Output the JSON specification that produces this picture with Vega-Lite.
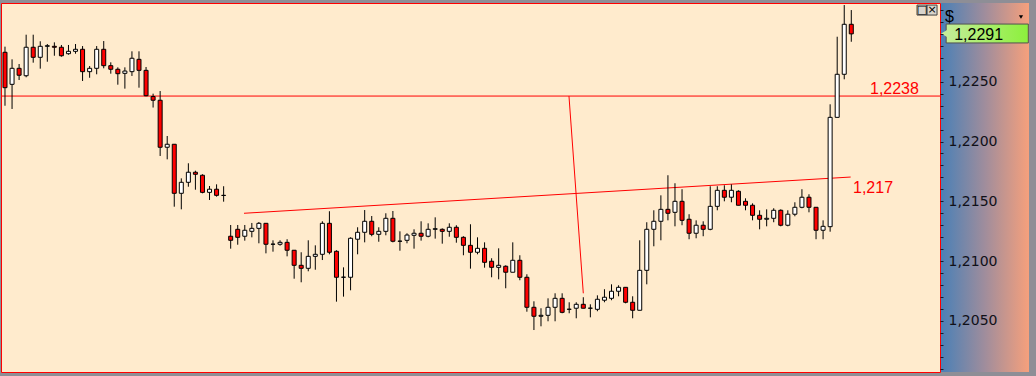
{
  "$schema": "https://vega.github.io/schema/vega-lite/v6.json",
  "autosize": {"type": "none"},
  "width": 939,
  "height": 369,
  "padding": {"left": 1, "top": 3, "right": 96, "bottom": 4},
  "background": "#8e8e96",
  "config": {
    "view": {"fill": "#FFEBCD", "stroke": "#ff0000", "strokeWidth": 1},
    "scale": {"continuousPadding": 0}
  },
  "datasets": {
    "candles": [
      {"i":1,"o":1.22746,"h":1.22793,"l":1.22299,"c":1.22450},
      {"i":2,"o":1.22478,"h":1.22687,"l":1.22272,"c":1.22612},
      {"i":3,"o":1.22612,"h":1.22648,"l":1.22514,"c":1.22554},
      {"i":4,"o":1.22550,"h":1.22893,"l":1.22537,"c":1.22788},
      {"i":5,"o":1.22788,"h":1.22893,"l":1.22659,"c":1.22704},
      {"i":6,"o":1.22704,"h":1.22838,"l":1.22609,"c":1.22796},
      {"i":7,"o":1.22796,"h":1.22815,"l":1.22667,"c":1.22801},
      {"i":8,"o":1.22796,"h":1.22829,"l":1.22717,"c":1.22788},
      {"i":9,"o":1.22788,"h":1.22807,"l":1.22709,"c":1.22717},
      {"i":10,"o":1.22734,"h":1.22807,"l":1.22726,"c":1.22754},
      {"i":11,"o":1.22754,"h":1.22815,"l":1.22734,"c":1.22771},
      {"i":12,"o":1.22771,"h":1.22798,"l":1.22506,"c":1.22584},
      {"i":13,"o":1.22584,"h":1.22631,"l":1.22533,"c":1.22612},
      {"i":14,"o":1.22612,"h":1.22798,"l":1.22562,"c":1.22771},
      {"i":15,"o":1.22771,"h":1.22840,"l":1.22612,"c":1.22634},
      {"i":16,"o":1.22634,"h":1.22662,"l":1.22567,"c":1.22604},
      {"i":17,"o":1.22604,"h":1.22620,"l":1.22475,"c":1.22567},
      {"i":18,"o":1.22570,"h":1.22620,"l":1.22442,"c":1.22589},
      {"i":19,"o":1.22584,"h":1.22754,"l":1.22548,"c":1.22696},
      {"i":20,"o":1.22687,"h":1.22754,"l":1.22450,"c":1.22595},
      {"i":21,"o":1.22595,"h":1.22623,"l":1.22378,"c":1.22383},
      {"i":22,"o":1.22376,"h":1.22400,"l":1.22284,"c":1.22345},
      {"i":23,"o":1.22345,"h":1.22422,"l":1.21879,"c":1.21952},
      {"i":24,"o":1.21952,"h":1.22046,"l":1.21851,"c":1.21977},
      {"i":25,"o":1.21977,"h":1.21977,"l":1.21455,"c":1.21567},
      {"i":26,"o":1.21567,"h":1.21692,"l":1.21433,"c":1.21659},
      {"i":27,"o":1.21659,"h":1.21818,"l":1.21622,"c":1.21743},
      {"i":28,"o":1.21743,"h":1.21756,"l":1.21597,"c":1.21726},
      {"i":29,"o":1.21718,"h":1.21726,"l":1.21567,"c":1.21575},
      {"i":30,"o":1.21575,"h":1.21628,"l":1.21511,"c":1.21601},
      {"i":31,"o":1.21601,"h":1.21642,"l":1.21539,"c":1.21550},
      {"i":32,"o":1.21550,"h":1.21626,"l":1.21497,"c":1.21549},
      {"i":33,"o":1.21208,"h":1.21302,"l":1.21104,"c":1.21174},
      {"i":34,"o":1.21266,"h":1.21302,"l":1.21137,"c":1.21199},
      {"i":35,"o":1.21208,"h":1.21302,"l":1.21171,"c":1.21258},
      {"i":36,"o":1.21249,"h":1.21319,"l":1.21199,"c":1.21274},
      {"i":37,"o":1.21274,"h":1.21327,"l":1.21149,"c":1.21316},
      {"i":38,"o":1.21316,"h":1.21316,"l":1.21065,"c":1.21141},
      {"i":39,"o":1.21141,"h":1.21174,"l":1.21079,"c":1.21142},
      {"i":40,"o":1.21141,"h":1.21174,"l":1.21129,"c":1.21157},
      {"i":41,"o":1.21157,"h":1.21183,"l":1.21040,"c":1.21091},
      {"i":42,"o":1.21091,"h":1.21091,"l":1.20853,"c":1.20965},
      {"i":43,"o":1.20965,"h":1.21074,"l":1.20823,"c":1.20940},
      {"i":44,"o":1.20940,"h":1.21174,"l":1.20915,"c":1.21040},
      {"i":45,"o":1.21040,"h":1.21132,"l":1.20928,"c":1.21057},
      {"i":46,"o":1.21057,"h":1.21333,"l":1.21009,"c":1.21316},
      {"i":47,"o":1.21316,"h":1.21417,"l":1.21057,"c":1.21074},
      {"i":48,"o":1.21082,"h":1.21091,"l":1.20661,"c":1.20865},
      {"i":49,"o":1.20865,"h":1.20948,"l":1.20703,"c":1.20866},
      {"i":50,"o":1.20865,"h":1.21199,"l":1.20756,"c":1.21191},
      {"i":51,"o":1.21183,"h":1.21283,"l":1.21057,"c":1.21241},
      {"i":52,"o":1.21241,"h":1.21427,"l":1.21157,"c":1.21333},
      {"i":53,"o":1.21333,"h":1.21377,"l":1.21208,"c":1.21224},
      {"i":54,"o":1.21224,"h":1.21283,"l":1.21162,"c":1.21249},
      {"i":55,"o":1.21249,"h":1.21400,"l":1.21216,"c":1.21358},
      {"i":56,"o":1.21358,"h":1.21419,"l":1.21157,"c":1.21166},
      {"i":57,"o":1.21166,"h":1.21249,"l":1.21087,"c":1.21167},
      {"i":58,"o":1.21174,"h":1.21233,"l":1.21149,"c":1.21218},
      {"i":59,"o":1.21216,"h":1.21266,"l":1.21104,"c":1.21233},
      {"i":60,"o":1.21233,"h":1.21333,"l":1.21171,"c":1.21208},
      {"i":61,"o":1.21208,"h":1.21316,"l":1.21199,"c":1.21266},
      {"i":62,"o":1.21266,"h":1.21366,"l":1.21188,"c":1.21271},
      {"i":63,"o":1.21266,"h":1.21274,"l":1.21146,"c":1.21249},
      {"i":64,"o":1.21249,"h":1.21316,"l":1.21204,"c":1.21283},
      {"i":65,"o":1.21283,"h":1.21300,"l":1.21154,"c":1.21199},
      {"i":66,"o":1.21199,"h":1.21208,"l":1.21049,"c":1.21132},
      {"i":67,"o":1.21132,"h":1.21308,"l":1.20937,"c":1.21074},
      {"i":68,"o":1.21074,"h":1.21199,"l":1.21057,"c":1.21107},
      {"i":69,"o":1.21107,"h":1.21157,"l":1.20945,"c":1.20990},
      {"i":70,"o":1.20999,"h":1.21024,"l":1.20865,"c":1.20948},
      {"i":71,"o":1.20948,"h":1.21107,"l":1.20848,"c":1.20965},
      {"i":72,"o":1.20957,"h":1.20965,"l":1.20773,"c":1.20907},
      {"i":73,"o":1.20907,"h":1.21157,"l":1.20907,"c":1.21007},
      {"i":74,"o":1.21007,"h":1.21049,"l":1.20840,"c":1.20865},
      {"i":75,"o":1.20865,"h":1.20890,"l":1.20577,"c":1.20614},
      {"i":76,"o":1.20614,"h":1.20664,"l":1.20424,"c":1.20539},
      {"i":77,"o":1.20539,"h":1.20606,"l":1.20455,"c":1.20547},
      {"i":78,"o":1.20547,"h":1.20689,"l":1.20497,"c":1.20614},
      {"i":79,"o":1.20614,"h":1.20731,"l":1.20497,"c":1.20689},
      {"i":80,"o":1.20689,"h":1.20731,"l":1.20564,"c":1.20572},
      {"i":81,"o":1.20597,"h":1.20656,"l":1.20564,"c":1.20598},
      {"i":82,"o":1.20606,"h":1.20656,"l":1.20522,"c":1.20639},
      {"i":83,"o":1.20639,"h":1.20698,"l":1.20606,"c":1.20606},
      {"i":84,"o":1.20606,"h":1.20639,"l":1.20530,"c":1.20607},
      {"i":85,"o":1.20597,"h":1.20714,"l":1.20581,"c":1.20681},
      {"i":86,"o":1.20673,"h":1.20765,"l":1.20656,"c":1.20698},
      {"i":87,"o":1.20689,"h":1.20806,"l":1.20673,"c":1.20748},
      {"i":88,"o":1.20748,"h":1.20798,"l":1.20706,"c":1.20781},
      {"i":89,"o":1.20781,"h":1.20781,"l":1.20647,"c":1.20656},
      {"i":90,"o":1.20656,"h":1.20706,"l":1.20522,"c":1.20589},
      {"i":91,"o":1.20589,"h":1.21174,"l":1.20589,"c":1.20923},
      {"i":92,"o":1.20923,"h":1.21325,"l":1.20806,"c":1.21266},
      {"i":93,"o":1.21266,"h":1.21425,"l":1.21124,"c":1.21333},
      {"i":94,"o":1.21333,"h":1.21550,"l":1.21174,"c":1.21433},
      {"i":95,"o":1.21433,"h":1.21718,"l":1.21341,"c":1.21400},
      {"i":96,"o":1.21408,"h":1.21651,"l":1.21291,"c":1.21500},
      {"i":97,"o":1.21500,"h":1.21601,"l":1.21300,"c":1.21341},
      {"i":98,"o":1.21350,"h":1.21392,"l":1.21183,"c":1.21233},
      {"i":99,"o":1.21233,"h":1.21341,"l":1.21191,"c":1.21300},
      {"i":100,"o":1.21300,"h":1.21333,"l":1.21208,"c":1.21266},
      {"i":101,"o":1.21266,"h":1.21626,"l":1.21258,"c":1.21458},
      {"i":102,"o":1.21458,"h":1.21626,"l":1.21425,"c":1.21592},
      {"i":103,"o":1.21592,"h":1.21634,"l":1.21500,"c":1.21534},
      {"i":104,"o":1.21534,"h":1.21642,"l":1.21492,"c":1.21592},
      {"i":105,"o":1.21584,"h":1.21592,"l":1.21467,"c":1.21467},
      {"i":106,"o":1.21500,"h":1.21525,"l":1.21425,"c":1.21467},
      {"i":107,"o":1.21467,"h":1.21483,"l":1.21341,"c":1.21383},
      {"i":108,"o":1.21383,"h":1.21425,"l":1.21266,"c":1.21350},
      {"i":109,"o":1.21350,"h":1.21433,"l":1.21291,"c":1.21358},
      {"i":110,"o":1.21358,"h":1.21442,"l":1.21325,"c":1.21425},
      {"i":111,"o":1.21425,"h":1.21433,"l":1.21291,"c":1.21300},
      {"i":112,"o":1.21300,"h":1.21425,"l":1.21291,"c":1.21392},
      {"i":113,"o":1.21392,"h":1.21492,"l":1.21375,"c":1.21450},
      {"i":114,"o":1.21450,"h":1.21601,"l":1.21442,"c":1.21534},
      {"i":115,"o":1.21534,"h":1.21559,"l":1.21408,"c":1.21450},
      {"i":116,"o":1.21450,"h":1.21450,"l":1.21183,"c":1.21258},
      {"i":117,"o":1.21258,"h":1.21341,"l":1.21183,"c":1.21291},
      {"i":118,"o":1.21288,"h":1.22311,"l":1.21246,"c":1.22202},
      {"i":119,"o":1.22202,"h":1.22876,"l":1.22202,"c":1.22562},
      {"i":120,"o":1.22562,"h":1.23141,"l":1.22520,"c":1.22980},
      {"i":121,"o":1.22980,"h":1.23099,"l":1.22834,"c":1.22900}
    ],
    "lines": [
      {"i":34.89,"p":1.21400,"i2":120.91,"p2":1.21703},
      {"i":80.97,"p":1.22380,"i2":83.0,"p2":1.20731}
    ],
    "levels": [
      {"i":123.65,"p":1.2238,"label":"1,2238"}
    ],
    "trendlabel": [
      {"i":121.24,"p":1.217,"label":"1,217"}
    ],
    "last": [
      {"i":134.45,"i2":146.1,"p":1.22903,"top":1.22982,"bot":1.22824,"label":"1,2291"}
    ]
  },
  "encoding": {
    "y": {"type": "quantitative", "scale": {"domain": [1.20073, 1.23158], "nice": false, "zero": false},
      "title": null,
      "axis": {
        "orient": "right", "title": null, "domain": false, "grid": false,
        "values": [1.201,1.202,1.203,1.204,1.205,1.206,1.207,1.208,1.209,1.21,1.211,1.212,1.213,1.214,1.215,1.216,1.217,1.218,1.219,1.22,1.221,1.222,1.223,1.224,1.225,1.226,1.227,1.228,1.229,1.23,1.231],
        "format": ".4f",
        "labelExpr": "(datum.value < 1.2275 && round(datum.value * 1000) % 5 == 0) ? replace(datum.label, '.', ',') : ''",
        "tickSize": 3,
        "tickColor": "#1a1a2a", "tickWidth": 1,
        "labelColor": "#101018", "labelFont": "DejaVu Sans", "labelFontSize": 14,
        "labelPadding": 5, "labelOverlap": false, "labelFlush": false, "labelBound": false,
        "zindex": 2
      }
    },
    "x": {"type": "quantitative", "scale": {"domain": [0.433, 133.578], "nice": false, "zero": false, "padding": 0}, "axis": null}
  },
  "layer": [
    {
      "data": {"values": [{}]},
      "mark": {"type": "rect", "fill": {"gradient": "linear", "x1": 0, "x2": 1, "y1": 0, "y2": 0, "stops": [{"offset": 0, "color": "#4a80b6"}, {"offset": 0.5, "color": "#a08d9c"}, {"offset": 1, "color": "#f6a07c"}]}},
      "encoding": {
        "x": {"datum": 133.72, "type": "quantitative"},
        "x2": {"datum": 146.2},
        "y": {"datum": 1.23158, "type": "quantitative"},
        "y2": {"datum": 1.20073}
      }
    },
    {
      "data": {"values": [{}]},
      "mark": {"type": "rule", "color": "#ff0000", "strokeWidth": 1},
      "encoding": {
        "x": {"datum": 0.433, "type": "quantitative"},
        "x2": {"datum": 133.578},
        "y": {"datum": 1.2238, "type": "quantitative"}
      }
    },
    {
      "data": {"name": "lines"},
      "mark": {"type": "rule", "color": "#ff0000", "strokeWidth": 1},
      "encoding": {
        "x": {"field": "i"},
        "x2": {"field": "i2"},
        "y": {"field": "p"},
        "y2": {"field": "p2"}
      }
    },
    {
      "data": {"name": "candles"},
      "mark": {"type": "rule", "color": "#000000", "strokeWidth": 1},
      "encoding": {
        "x": {"field": "i"},
        "y": {"field": "l"},
        "y2": {"field": "h"}
      }
    },
    {
      "data": {"name": "candles"},
      "mark": {"type": "bar", "size": 4, "stroke": "#000000", "strokeWidth": 1},
      "encoding": {
        "x": {"field": "i"},
        "y": {"field": "o"},
        "y2": {"field": "c"},
        "fill": {"condition": {"test": "datum.c < datum.o", "value": "#ff0000"}, "value": "#ffffff"}
      }
    },
    {
      "data": {"name": "levels"},
      "mark": {"type": "text", "color": "#ff0000", "font": "Liberation Sans", "fontSize": 16, "align": "left", "baseline": "alphabetic", "dy": -2},
      "encoding": {
        "x": {"field": "i"},
        "y": {"field": "p"},
        "text": {"field": "label"}
      }
    },
    {
      "data": {"name": "trendlabel"},
      "mark": {"type": "text", "color": "#ff0000", "font": "Liberation Sans", "fontSize": 16, "align": "left", "baseline": "alphabetic", "dy": 16},
      "encoding": {
        "x": {"field": "i"},
        "y": {"field": "p"},
        "text": {"field": "label"}
      }
    },
    {
      "data": {"name": "last"},
      "mark": {"type": "rect", "stroke": "#505050", "strokeWidth": 1, "fill": {"gradient": "linear", "x1": 0, "x2": 1, "y1": 0, "y2": 0, "stops": [{"offset": 0, "color": "#c4ec98"}, {"offset": 1, "color": "#8cf03c"}]}},
      "encoding": {
        "x": {"field": "i"},
        "x2": {"field": "i2"},
        "y": {"field": "top"},
        "y2": {"field": "bot"}
      }
    },
    {
      "data": {"name": "last"},
      "mark": {"type": "point", "shape": "triangle-left", "size": 70, "filled": true, "color": "#c4ec98", "opacity": 1},
      "encoding": {
        "x": {"datum": 134.25, "type": "quantitative"},
        "y": {"field": "p"}
      }
    },
    {
      "data": {"name": "last"},
      "mark": {"type": "text", "color": "#000000", "font": "Liberation Sans", "fontSize": 16, "align": "left", "baseline": "middle", "dx": 8, "dy": 1},
      "encoding": {
        "x": {"field": "i"},
        "y": {"field": "p"},
        "text": {"field": "label"}
      }
    },
    {
      "data": {"values": [{"sym": "$"}]},
      "mark": {"type": "text", "color": "#000000", "font": "Liberation Sans", "fontSize": 16, "align": "left", "baseline": "middle"},
      "encoding": {
        "x": {"datum": 134.29, "type": "quantitative"},
        "y": {"datum": 1.23041, "type": "quantitative"},
        "text": {"field": "sym"}
      }
    },
    {
      "data": {"values": [{}]},
      "mark": {"type": "point", "shape": "triangle-down", "size": 18, "filled": true, "color": "#000000", "opacity": 1},
      "encoding": {
        "x": {"datum": 145.06, "type": "quantitative"},
        "y": {"datum": 1.23041, "type": "quantitative"}
      }
    },
    {
      "data": {"values": [{"k": 131.03}, {"k": 132.45}]},
      "mark": {"type": "point", "shape": "square", "size": 100, "filled": true, "fill": "#d8d4cc", "stroke": "#404040", "strokeWidth": 1, "opacity": 1},
      "encoding": {
        "x": {"field": "k"},
        "y": {"datum": 1.23099, "type": "quantitative"}
      }
    },
    {
      "data": {"values": [{"k": 131.03, "s": "□"}, {"k": 132.45, "s": "×"}]},
      "mark": {"type": "text", "color": "#000000", "font": "DejaVu Sans", "fontSize": 11, "align": "center", "baseline": "middle"},
      "encoding": {
        "x": {"field": "k"},
        "y": {"datum": 1.23099, "type": "quantitative"},
        "text": {"field": "s"}
      }
    }
  ]
}
